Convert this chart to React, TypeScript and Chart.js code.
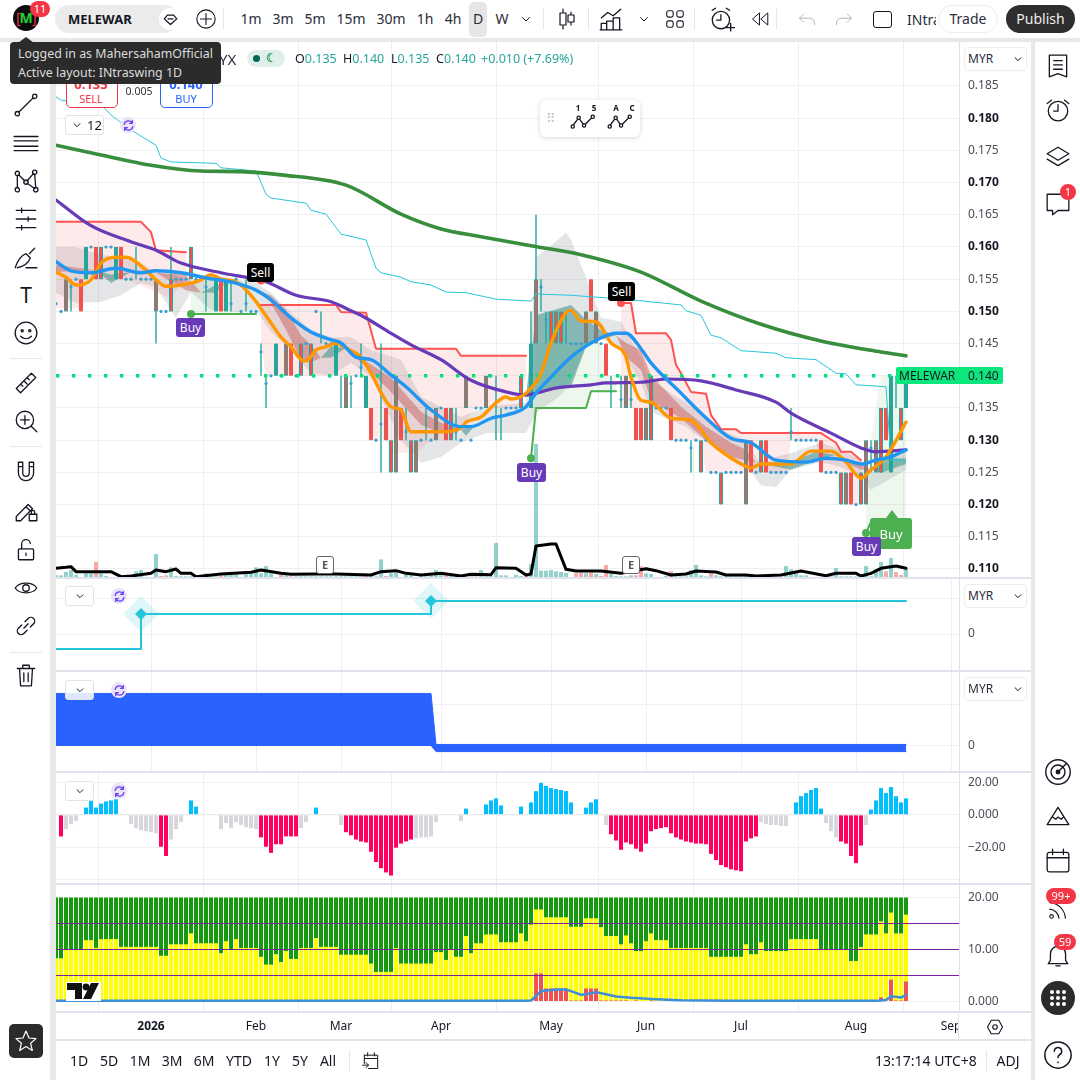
import { useEffect, useRef } from "react";
import { Chart, registerables } from "chart.js";
Chart.register(...registerables);
Chart.defaults.font.family = "'Noto Sans', sans-serif";

type P = [number, number];

const monthTicks = [19, 40, 57, 77, 99, 118, 137, 160, 179];
const monthLabels = ["2026", "Feb", "Mar", "Apr", "May", "Jun", "Jul", "Aug", "Sep"];
const priceTicks = [0.11, 0.115, 0.12, 0.125, 0.13, 0.135, 0.14, 0.145, 0.15, 0.155, 0.16, 0.165, 0.17, 0.175, 0.18, 0.185];

const openPrices = [
  .15,.15,.15,.155,.155,.155,.155,.16,.16,.155,
  .16,.16,.155,.16,.155,.155,.155,.155,.155,.155,
  .15,.15,.15,.15,.155,.155,.155,.155,.155,.155,
  .155,.155,.15,.155,.15,.155,.155,.15,.155,.15,
  .15,.145,.14,.14,.14,.14,.14,.145,.14,.14,
  .145,.14,.15,.15,.145,.145,.14,.14,.135,.14,
  .14,.145,.135,.135,.13,.135,.135,.125,.125,.135,
  .135,.125,.125,.13,.135,.13,.13,.135,.135,.13,
  .135,.13,.135,.13,.135,.135,.135,.14,.14,.135,
  .135,.135,.135,.135,.135,.135,.145,.155,.15,.145,
  .145,.145,.15,.145,.145,.145,.145,.155,.145,.145,
  .145,.14,.135,.14,.135,.14,.135,.135,.13,.13,
  .135,.135,.135,.135,.13,.13,.13,.13,.13,.125,
  .13,.125,.125,.12,.125,.125,.125,.125,.12,.13,
  .125,.125,.13,.125,.125,.125,.125,.135,.13,.13,
  .13,.13,.13,.13,.125,.125,.125,.12,.12,.125,
  .12,.12,.12,.13,.125,.125,.135,.125,.14,.13,
  .135,
];
const closePrices = [
  .15,.15,.155,.155,.155,.15,.16,.16,.155,.16,
  .16,.16,.16,.155,.155,.155,.155,.155,.155,.155,
  .155,.15,.15,.155,.155,.155,.155,.16,.155,.155,
  .155,.155,.155,.15,.155,.155,.155,.15,.155,.15,
  .15,.145,.14,.14,.145,.14,.145,.14,.14,.145,
  .145,.145,.15,.15,.145,.145,.145,.14,.14,.14,
  .14,.145,.14,.13,.13,.135,.13,.13,.14,.13,
  .135,.13,.13,.13,.135,.13,.135,.135,.13,.135,
  .135,.13,.14,.13,.135,.135,.14,.14,.14,.135,
  .135,.135,.135,.14,.135,.145,.155,.155,.15,.15,
  .15,.15,.15,.145,.145,.145,.15,.15,.15,.145,
  .14,.14,.135,.14,.14,.14,.13,.13,.135,.14,
  .135,.135,.135,.13,.13,.13,.13,.13,.13,.13,
  .13,.125,.125,.125,.125,.125,.125,.125,.13,.125,
  .125,.13,.125,.125,.125,.125,.125,.135,.13,.13,
  .13,.13,.13,.125,.125,.125,.125,.125,.125,.12,
  .12,.125,.13,.13,.13,.135,.13,.14,.14,.135,
  .14,
];
const highPrices = [
  .15,.15,.155,.155,.155,.155,.16,.16,.16,.16,
  .16,.16,.16,.16,.155,.155,.16,.155,.155,.155,
  .155,.15,.15,.16,.155,.155,.155,.16,.155,.155,
  .155,.155,.155,.155,.155,.155,.155,.15,.155,.15,
  .15,.145,.14,.14,.145,.14,.145,.145,.14,.145,
  .145,.145,.15,.15,.145,.145,.145,.14,.14,.14,
  .14,.145,.14,.135,.13,.145,.135,.13,.14,.135,
  .135,.13,.13,.13,.135,.13,.135,.135,.135,.135,
  .135,.13,.14,.13,.135,.135,.14,.14,.14,.135,
  .135,.135,.135,.14,.135,.15,.165,.155,.15,.15,
  .15,.15,.15,.145,.145,.145,.15,.155,.15,.145,
  .145,.14,.135,.14,.14,.14,.135,.135,.135,.14,
  .135,.135,.135,.135,.13,.13,.13,.13,.13,.13,
  .13,.125,.125,.125,.125,.125,.125,.125,.13,.13,
  .125,.13,.13,.125,.125,.125,.125,.135,.13,.13,
  .13,.13,.13,.13,.125,.125,.125,.125,.125,.125,
  .12,.125,.13,.13,.13,.135,.135,.14,.14,.135,
  .14,
];
const lowPrices = [
  .15,.15,.15,.15,.155,.15,.155,.16,.155,.155,
  .16,.16,.155,.155,.155,.155,.155,.155,.155,.155,
  .145,.15,.15,.15,.155,.155,.155,.155,.155,.155,
  .15,.155,.15,.15,.15,.15,.155,.15,.15,.15,
  .15,.14,.135,.14,.14,.14,.14,.14,.14,.14,
  .145,.14,.15,.145,.145,.145,.14,.135,.135,.135,
  .14,.14,.135,.13,.13,.125,.13,.125,.125,.13,
  .13,.125,.125,.13,.13,.13,.13,.135,.13,.13,
  .13,.13,.135,.13,.135,.135,.135,.14,.13,.13,
  .135,.135,.135,.135,.135,.135,.145,.15,.145,.145,
  .145,.145,.145,.145,.145,.145,.145,.15,.145,.145,
  .14,.135,.135,.135,.135,.135,.13,.13,.13,.13,
  .135,.135,.135,.13,.13,.13,.13,.125,.13,.125,
  .13,.125,.125,.12,.125,.125,.125,.125,.12,.125,
  .125,.125,.125,.125,.125,.125,.125,.13,.13,.13,
  .13,.13,.13,.125,.125,.125,.125,.12,.12,.12,
  .12,.12,.12,.125,.125,.125,.13,.125,.135,.13,
  .135,
];
const mixedBars = [2,9,20,23,27,46,49,51,58,67,68,71,72,76,79,82,86,93,96,99,100,101,106,108,114,118,119,129,133,138,141,157,158,161,162,164,165,169];
const midDots: P[] = [
  [0,.1512],[1,.15],[3,.1538],[4,.155],[7,.16],[10,.16],[11,.16],[14,.155],[15,.155],[17,.155],[18,.155],[19,.155],[21,.15],[22,.15],
  [24,.155],[25,.155],[26,.155],[28,.155],[29,.155],[30,.1538],[31,.155],[35,.1512],[36,.155],[37,.15],[38,.1512],[39,.15],[40,.15],
  [41,.1437],[42,.1388],[43,.14],[45,.14],[48,.14],[50,.145],[52,.15],[54,.145],[55,.145],[59,.1388],[60,.14],[61,.1413],[64,.13],
  [65,.1325],[70,.1313],[73,.13],[75,.13],[77,.135],[80,.1313],[81,.13],[83,.13],[84,.135],[85,.135],[87,.14],[88,.1378],[90,.135],
  [91,.135],[92,.135],[97,.1538],[98,.1487],[103,.145],[104,.145],[105,.145],[109,.145],[113,.1363],[115,.1363],[120,.135],[121,.135],
  [122,.135],[124,.13],[125,.13],[126,.13],[127,.1288],[128,.13],[130,.13],[131,.125],[132,.125],[134,.125],[135,.125],[136,.125],
  [137,.125],[140,.125],[143,.125],[144,.125],[145,.125],[146,.125],[147,.1313],[148,.13],[149,.13],[150,.13],[151,.13],[152,.13],
  [154,.125],[155,.125],[156,.125],[160,.12],[163,.1288],
];

const volumes = [
  8,8,18,24,10,3,14,14,48,14, 6,3,3,3,5,8,20,24,3,3, 72,6,8,32,6,5,5,5,8,5, 14,5,5,8,12,14,10,3,18,14,
  32,14,36,14,3,14,8,5,5,5, 5,5,5,5,5,5,5,5,5,5, 5,5,8,5,5,56,6,14,20,3, 10,8,3,5,5,8,24,10,10,10,
  10,5,3,5,5,24,5,5,105,8, 8,3,10,6,6,42,402,22,22,24, 20,18,15,3,14,15,14,15,12,6, 39,12,6,5,5,8,8,35,14,12,
  3,3,6,20,5,5,5,24,39,8, 5,14,8,5,5,5,5,5,12,3, 3,3,3,3,3,3,36,26,14,8, 8,3,3,3,5,5,30,5,5,5,
  5,3,36,5,26,48,20,60,18,9, 26,
];
const volumeDown = [8,13,21,22,33,37,45,47,62,66,69,78,84,94,103,104,105,107,109,110,116,117,120,123,131,166,168,169];
const volumeAverage: P[] = [
  [0,29],[2,32],[3,34],[4,19],[8,19],[11,19],[13,4],[15,6],[19,14],[20,24],[22,19],[24,27],[25,14],[27,14],[28,4],[33,12],[39,17],[41,24],
  [45,14],[47,11],[52,12],[56,12],[63,9],[65,19],[68,22],[70,14],[73,9],[77,14],[81,6],[83,11],[87,10],[88,31],[92,29],[94,9],[95,12],
  [96,96],[99,102],[100,102],[102,26],[104,21],[109,21],[113,14],[118,28],[120,22],[123,9],[126,12],[128,21],[132,18],[134,9],[138,9],
  [140,6],[145,9],[149,21],[154,7],[156,14],[160,14],[161,6],[163,14],[165,29],[168,36],[170,29],
];

const longAverage: P[] = [[0,.1758],[9,.1743],[19,.1727],[29,.1718],[37,.1717],[45,.1712],[58,.1696],[69,.1651],[77,.1628],[85,.1616],[95,.1602],[105,.1588],[117,.1561],[129,.1516],[141,.148],[153,.1454],[165,.1437],[170,.1431]];
const cyanLine: P[] = [[0,.1833],[1,.1828],[9,.1821],[11,.1805],[13,.1793],[16,.1777],[20,.1758],[21,.1738],[23,.1732],[32,.173],[33,.1723],[40,.1718],[42,.1682],[43,.1676],[50,.1668],[51,.1657],[54,.1651],[57,.162],[62,.1611],[64,.1567],[65,.156],[69,.1553],[71,.1546],[75,.1541],[78,.153],[82,.1529],[88,.1519],[95,.1516],[96,.1527],[103,.1525],[110,.1521],[115,.1518],[125,.151],[126,.1501],[129,.1494],[131,.1463],[133,.1459],[137,.1439],[144,.1435],[146,.1428],[152,.1425],[156,.1404],[158,.1403],[160,.1386],[166,.1383],[167,.1269],[170,.1268]];
const purpleLine: P[] = [[0,.1673],[7,.1633],[15,.1608],[20,.1595],[25,.1575],[33,.156],[42,.1546],[48,.1525],[55,.1515],[59,.1501],[61,.1494],[67,.1466],[71,.1448],[77,.1425],[83,.1393],[90,.1375],[94,.137],[97,.1375],[100,.1381],[107,.1386],[110,.1389],[117,.139],[122,.1395],[129,.1392],[136,.1378],[144,.1359],[147,.1342],[155,.1311],[161,.1288],[164,.1282],[170,.1285]];
const blueLine: P[] = [[0,.1577],[3,.1563],[7,.156],[12,.1567],[17,.156],[20,.1563],[25,.156],[30,.1552],[36,.1544],[40,.1533],[43,.1518],[47,.149],[51,.1468],[55,.1456],[57,.1451],[60,.1429],[63,.1425],[67,.1401],[70,.1383],[75,.1347],[81,.1321],[83,.1321],[87,.1334],[90,.1339],[94,.1352],[96,.1373],[99,.1398],[103,.1429],[109,.1459],[112,.1466],[114,.1466],[117,.1442],[119,.142],[125,.1373],[129,.1342],[135,.1303],[139,.1296],[144,.1269],[150,.1266],[154,.1272],[158,.1269],[161,.1263],[164,.1269],[167,.1274],[170,.1285]];
const orangeLine: P[] = [[0,.1561],[2,.1553],[4,.1541],[7,.1549],[9,.1575],[12,.1584],[14,.1584],[18,.1564],[20,.1549],[22,.1539],[27,.1544],[29,.1549],[31,.1557],[33,.155],[36,.1546],[39,.1525],[43,.1482],[45,.146],[47,.1445],[49,.1425],[50,.1423],[52,.144],[54,.1445],[56,.1451],[58,.1443],[61,.1429],[63,.1404],[67,.1352],[69,.1347],[71,.1313],[75,.1313],[77,.1313],[81,.1319],[82,.1328],[85,.1336],[88,.1358],[90,.1367],[91,.1364],[94,.1373],[97,.1404],[99,.1451],[102,.1498],[103,.1502],[105,.1485],[108,.1484],[111,.1451],[114,.1429],[115,.1398],[117,.1362],[119,.1359],[123,.1334],[127,.1331],[131,.1296],[137,.1263],[139,.1257],[141,.1263],[147,.1263],[151,.1283],[155,.1283],[158,.1266],[161,.1241],[163,.1254],[166,.1274],[170,.1328]];

const stopOne: P[] = [[0,.1639],[17,.1639],[19,.1623],[20,.1595],[26,.1592]];
const stopOneBase: P[] = [[0,.1505],[5,.1505],[6,.155],[14,.155],[20,.153],[23,.152],[26,.155]];
const stopTwo: P[] = [[41,.151],[56,.151],[57,.1499],[62,.1498],[64,.1442],[80,.1442],[81,.1431],[94,.1431]];
const stopTwoBase: P[] = [[41,.145],[42,.14],[62,.14],[63,.13],[66,.13],[67,.128],[72,.128],[75,.13],[79,.13],[81,.132],[84,.135],[93,.135],[94,.14]];
const stopThree: P[] = [[113,.1513],[115,.1513],[116,.1466],[122,.1466],[123,.1456],[124,.1417],[125,.1404],[127,.1375],[130,.1372],[131,.1339],[132,.1328],[133,.1317],[136,.1317],[137,.1311],[153,.1311],[156,.1296],[157,.1282],[159,.1282],[161,.1269]];
const stopThreeBase: P[] = [[113,.135],[122,.135],[123,.13],[129,.13],[130,.125],[146,.125],[147,.13],[152,.13],[153,.125],[156,.125],[157,.12],[161,.12]];
const trailOne: P[] = [[27,.1496],[40,.1496]];
const trailOneTop: P[] = [[27,.155],[32,.155],[33,.15],[40,.15]];
const trailTwo: P[] = [[95,.1272],[96,.135],[106,.135],[107,.1376],[112,.1376]];
const trailTwoTop: P[] = [[95,.1272],[96,.145],[109,.145],[110,.14],[112,.14]];
const trailThree: P[] = [[162,.1156],[163,.1173],[170,.1176]];
const trailThreeTop: P[] = [[162,.12],[163,.13],[164,.135],[165,.14],[170,.14]];

const ribbonFast: P[] = [[0,.1561],[8,.1564],[11,.1557],[15,.1561],[20,.156],[26,.1533],[29,.1529],[32,.1541],[34,.1544],[41,.153],[43,.1513],[46,.1471],[49,.1425],[51,.1421],[53,.1428],[55,.1446],[58,.1443],[67,.1375],[73,.1324],[77,.1311],[81,.1316],[82,.1319],[84,.1324],[94,.1369],[96,.1494],[103,.151],[106,.1487],[109,.1471],[112,.1463],[114,.1429],[117,.1409],[119,.1362],[125,.1334],[130,.13],[135,.1274],[138,.1269],[140,.1265],[147,.1266],[152,.1282],[156,.1277],[158,.1265],[161,.1254],[163,.1254],[165,.1272],[170,.1272]];
const ribbonSlow: P[] = [[0,.1572],[8,.1564],[11,.1544],[15,.1561],[20,.156],[26,.1557],[29,.1529],[32,.1529],[34,.1544],[41,.153],[43,.1525],[46,.1502],[49,.1463],[51,.1448],[53,.1428],[55,.1428],[58,.1443],[67,.1397],[73,.1344],[77,.1327],[81,.1316],[82,.1307],[84,.1324],[94,.1369],[96,.1373],[103,.1383],[106,.1445],[109,.1456],[112,.1463],[114,.1451],[117,.144],[119,.1401],[125,.1352],[130,.1321],[135,.1296],[138,.1285],[140,.1265],[147,.1254],[152,.1269],[156,.1277],[158,.1272],[161,.1263],[163,.1254],[165,.1249],[170,.1263]];

const bandUpper: P[] = [[0,.16],[4,.16],[9,.1588],[13,.1584],[17,.1575],[20,.1561],[24,.1557],[27,.1541],[31,.1557],[36,.155],[40,.1544],[43,.1529],[47,.1498],[51,.1471],[55,.146],[59,.146],[63,.144],[69,.1425],[73,.1367],[77,.1352],[81,.1336],[86,.1352],[94,.1358],[96,.1584],[101,.1615],[102,.1623],[103,.1611],[106,.1553],[109,.149],[113,.1484],[117,.1429],[119,.1393],[126,.1358],[133,.1316],[138,.13],[141,.1261],[144,.1274],[147,.128],[153,.1296],[157,.1285],[161,.1269],[163,.1249],[170,.1289]];
const bandLower: P[] = [[0,.1529],[4,.1513],[9,.1515],[13,.1525],[17,.1544],[20,.1538],[24,.149],[27,.153],[31,.1502],[36,.1499],[40,.1502],[43,.1468],[47,.144],[51,.1404],[55,.1401],[59,.142],[63,.1398],[69,.13],[73,.1265],[77,.1274],[81,.1296],[86,.1311],[94,.1311],[96,.1342],[101,.137],[102,.1381],[103,.1393],[106,.1445],[109,.1459],[113,.144],[117,.1389],[119,.1344],[126,.1321],[133,.128],[138,.1261],[141,.123],[144,.1227],[147,.1254],[153,.1266],[157,.1258],[161,.1243],[163,.1223],[170,.1254]];

const lastPriceLine: P[] = [[0,.14],[170,.14]];
const buyDots: P[] = [[27,.1496],[95,.1272],[162,.1156]];
const sellDots: P[] = [[41,.1548],[113,.1513]];

const signalLine: P[] = [[0,-.42],[17,.556],[75,.917],[170,.917]];
const signalMarks: P[] = [[17,.556],[75,.917]];
const fillTop: P[] = [[0,1.275],[75,1.275],[76,.025],[170,.025]];
const fillBase: P[] = [[0,0],[75,0],[76,-.15],[170,-.15]];

const momentum = [
  0,-13.3,-8.8,-5.7,-3.8,0,4.4,8.8,4.4,6.9, 8.2,8.8,9.5,0,0,-5.7,-8.2,-9.5,-10.1,-10.7,
  -11.4,-19.6,-25.3,-15.2,-8.8,-4.4,0,8.8,5,0, 0,0,0,-8.8,-5,-8.2,-4.4,-6.3,-7.6,-8.2,
  -8.8,-13.9,-19.6,-23.4,-18.1,-18.1,-13.3,-13.3,-13.3,-8.2, -4.4,0,4.4,0,0,0,0,-6.3,-10.7,-12.6,
  -15.2,-16.4,-17,-22.7,-29,-32.8,-35.4,-37.3,-20.2,-17.7, -16.4,-15.2,-14.5,-13.9,-13.9,-13.3,-4.4,0,0,0,
  0,-3.8,3.8,0,0,0,6.3,8.8,10.1,5.7, 0,0,0,5,0,7.6,14.5,19.6,17.7,16.4,
  15.8,15.2,14.5,7.6,0,0,4.4,7.6,9.5,0, -6.3,-12,-15.8,-21.5,-17,-18.1,-20.8,-22.7,-17.7,-10.1,
  -8.8,-8.2,-7.6,-11.4,-13.9,-15.2,-16.4,-17,-17.7,-17.7, -18.1,-24,-27.8,-30.9,-32.2,-33.5,-34.1,-34.7,-16.4,-14.5,
  -13.3,-4.6,-5.7,-6.3,-6.3,-6.9,-6.9,0,7.6,11.4, 13.3,15.2,16.4,3.8,-5,-10.1,-13.9,-16.4,-17.7,-25.3,
  -29.7,-18.9,-6.3,3.2,8.8,16.4,13.3,17,11.4,7.6, 10.1,
];
const momentumGray = [2,3,4,15,16,17,18,19,20,23,24,25,33,34,35,36,37,38,39,40,49,50,57,72,73,74,75,76,81,110,141,142,143,144,145,146,154,155,156,162];

const yellowBars = [
  8.3,8.3,9.9,9.9,9.9,9.9,11.8,11.8,10.3,12, 12,12,12,10.5,10.5,10.5,10.5,10.5,10.5,10.5,
  10.5,8.8,8.8,11,11,11,11,13.1,11.2,11.2, 11.2,11.2,11.2,9.3,11.6,9.9,12,10.3,10.3,10.3,
  10.3,8.6,7.1,7.1,9.1,7.6,9.7,8.2,8.2,10.3, 10.3,10.3,12.2,10.5,10.5,10.5,10.5,9,9,9,
  9,9,9,7.3,5.7,5.7,5.7,5.7,10.3,7.3, 7.3,7.3,7.3,7.3,7.3,7.3,9.5,9.5,8,9.9,
  8.6,8.6,12.6,9.3,11.2,11.2,12.9,12.9,12.9,11.4, 11.4,11.4,11.4,13.1,11.6,14.8,17.7,17.7,16.2,16.2,
  16.2,16.2,16.2,14.4,14.4,14.4,16,16,16,14.3, 12.6,12.6,12.6,11,12.7,11.2,9.7,9.7,11.6,13.1,
  11.8,11.8,11.8,10.3,10.3,10.3,10.3,10.3,10.3,10.3, 10.3,8.6,8.6,8.6,8.6,8.6,8.6,8.6,11,9.1,
  9.1,11.4,9.7,9.7,9.7,9.7,9.7,12,12,12, 12,12,12,9.9,9.9,9.9,9.9,9.9,9.9,7.8,
  7.8,10.5,12.9,12.9,12.9,15.4,13.1,17.1,13.1,13.1, 16.7,
];
const redBars: P[] = [[96,5.4],[97,5.4],[98,2.5],[99,2.5],[100,2.5],[101,2.5],[102,2.5],[103,.2],[104,.2],[105,.2],[106,2.5],[107,2.5],[108,2.5],[109,.2],[110,.2],[111,.2],[112,.2],[113,.2],[114,.2],[116,.2],[119,.2],[122,.2],[125,.2],[165,.8],[167,4.2],[168,.2],[169,.2],[170,3.85]];
const flowLine: P[] = [[0,.15],[94,.15],[95,.2],[96,1.05],[97,2],[98,2.1],[100,2.3],[102,2.3],[103,2],[105,1.3],[106,1.4],[108,1.8],[110,1.4],[112,.95],[115,.7],[120,.45],[125,.25],[135,.15],[164,.15],[165,.2],[166,.3],[167,1],[169,.75],[170,1.25]];
const guideLevels = [15, 10, 5];

const TEAL = "#26a69a";
const RED = "#ef5350";
const GRID = "#f0f0f3";
const AXIS = "#e0e3eb";
const pts = (list: P[]) => list.map(([x, y]) => ({ x, y }));
const idx = volumes.map((_, i) => i);

const xAxis = (labels = false): any => ({
  type: "linear", min: 0, max: 180.6, offset: false,
  afterBuildTicks: (s: any) => { s.ticks = monthTicks.map((value) => ({ value })); },
  afterFit: (s: any) => { s.height = labels ? 28 : 0; s.paddingLeft = 0; s.paddingRight = 0; },
  border: { display: false },
  grid: { color: "#eeeef3", drawTicks: false },
  ticks: labels
    ? {
        display: true, autoSkip: false, maxRotation: 0, padding: 7, color: "#131722",
        font: (c: any) => ({ size: 12, weight: c.tick && c.tick.value === 19 ? "bold" : "normal" }),
        callback: (v: number) => monthLabels[monthTicks.indexOf(v)] ?? "",
      }
    : { display: false },
});
const yAxis = (min: number, max: number, ticks: number[], fmt: (v: number) => string, bold?: (v: number) => boolean): any => ({
  type: "linear", position: "right", min, max,
  afterBuildTicks: (s: any) => { s.ticks = ticks.map((value) => ({ value })); },
  afterFit: (s: any) => { s.width = 72; s.paddingTop = 0; s.paddingBottom = 0; },
  border: { display: true, color: AXIS },
  grid: { color: GRID, drawTicks: false },
  ticks: {
    autoSkip: false, padding: 9, callback: (v: number) => fmt(v),
    color: (c: any) => (bold && c.tick && bold(c.tick.value) ? "#131722" : "#4a4e59"),
    font: (c: any) => ({ size: 12, weight: bold && c.tick && bold(c.tick.value) ? "bold" : "normal" }),
  },
});
const baseOptions = (scales: any): any => ({
  responsive: false, animation: false, events: [], layout: { padding: 0, autoPadding: false },
  plugins: { legend: { display: false }, tooltip: { enabled: false } },
  scales,
});
const ln = (data: P[], color: string, w: number, extra: any = {}) => ({
  type: "line", data: pts(data), borderColor: color, borderWidth: w, pointRadius: 0, tension: 0, fill: false,
  borderJoinStyle: "round", borderCapStyle: "round", ...extra,
});
const smooth = { cubicInterpolationMode: "monotone" };

function buildMain(canvas: HTMLCanvasElement) {
  const ds: any[] = [];
  const add = (d: any) => { d.order = -ds.length; ds.push(d); return ds.length - 1; };
  const band = (upper: P[], lower: P[], above: string, below = above, w = 0, col = "transparent") => {
    const t = add(ln(lower, "transparent", 0));
    add(ln(upper, col, w, { fill: { target: t, above, below } }));
  };
  add({
    type: "bar", yAxisID: "vol", grouped: false, barThickness: 4, inflateAmount: 0,
    data: idx.map((i) => ({ x: i, y: volumes[i] })),
    backgroundColor: idx.map((i) => (volumeDown.includes(i) ? "rgba(239,83,80,.5)" : "rgba(38,166,154,.5)")),
  });
  band(bandUpper, bandLower, "rgba(120,123,134,.2)");
  band(stopOne, stopOneBase, "rgba(239,83,80,.12)", "rgba(239,83,80,.12)", 2, "#ff5252");
  band(stopTwo, stopTwoBase, "rgba(239,83,80,.12)", "rgba(239,83,80,.12)", 2, "#ff5252");
  band(stopThree, stopThreeBase, "rgba(239,83,80,.12)", "rgba(239,83,80,.12)", 2, "#ff5252");
  band(trailOneTop, trailOne, "rgba(76,175,80,.1)");
  band(trailTwoTop, trailTwo, "rgba(76,175,80,.1)");
  band(trailThreeTop, trailThree, "rgba(76,175,80,.1)");
  add(ln(trailOne, "#4caf50", 2));
  add(ln(trailTwo, "#4caf50", 2));
  add(ln(trailThree, "#4caf50", 2));
  band(ribbonFast, ribbonSlow, "rgba(38,140,130,.5)", "rgba(190,70,70,.4)");

  const wickIdx = idx.filter((i) => highPrices[i] > lowPrices[i]);
  add({
    type: "bar", grouped: false, barThickness: 1.4, inflateAmount: 0,
    data: wickIdx.map((i) => ({ x: i, y: [lowPrices[i], highPrices[i]] })),
    backgroundColor: wickIdx.map((i) => (closePrices[i] < openPrices[i] ? RED : TEAL)),
  });
  const bodyIdx = idx.filter((i) => closePrices[i] !== openPrices[i]);
  add({
    type: "bar", grouped: false, barThickness: 4, inflateAmount: 0, borderWidth: 1, borderSkipped: false,
    data: bodyIdx.map((i) => ({ x: i, y: [openPrices[i], closePrices[i]] })),
    backgroundColor: bodyIdx.map((i) => (mixedBars.includes(i) || closePrices[i] < openPrices[i] ? RED : TEAL)),
    borderColor: bodyIdx.map((i) => (closePrices[i] < openPrices[i] && !mixedBars.includes(i) ? RED : TEAL)),
  });
  add(ln(midDots, "transparent", 0, { showLine: false, pointRadius: 1.6, pointBackgroundColor: "#3a9fd0", pointBorderWidth: 0 }));
  add(ln(lastPriceLine, "#00e676", 3.4, { borderDash: [3.4, 12.6], borderCapStyle: "butt" }));
  add(ln(volumeAverage, "#000000", 3, { yAxisID: "vol" }));
  add(ln(cyanLine, "#26c6da", 1));
  add(ln(longAverage, "#388e3c", 3.6, smooth));
  add(ln(purpleLine, "#673ab7", 3.2, smooth));
  add(ln(orangeLine, "#ff9800", 3.4, smooth));
  add(ln(blueLine, "#2196f3", 3.4, smooth));
  add(ln(buyDots, "transparent", 0, { showLine: false, pointRadius: 4, pointBackgroundColor: "#4caf50", pointBorderWidth: 0 }));
  add(ln(sellDots, "transparent", 0, { showLine: false, pointRadius: 4, pointBackgroundColor: "#ff5252", pointBorderWidth: 0 }));
  return new Chart(canvas, {
    type: "line", data: { datasets: ds },
    options: baseOptions({
      x: xAxis(),
      y: yAxis(0.1086, 0.19183, priceTicks, (v) => v.toFixed(3), (v) => Math.round(v * 1000) % 10 === 0),
      vol: { type: "linear", display: false, min: 0, max: 1608 },
    }),
  } as any);
}
function buildSignal(canvas: HTMLCanvasElement) {
  return new Chart(canvas, {
    type: "line",
    data: {
      datasets: [
        ln(signalMarks, "transparent", 0, { showLine: false, pointStyle: "rectRot", pointRadius: 6, pointBackgroundColor: "#26c6da", pointBorderWidth: 0, order: -1 }),
        ln(signalLine, "#26c6da", 2, { stepped: "before", borderJoinStyle: "miter", order: 0 }),
        ln(signalMarks, "transparent", 0, { showLine: false, pointStyle: "rectRot", pointRadius: 18, pointBackgroundColor: "rgba(38,198,218,.14)", pointBorderWidth: 0, order: 1 }),
      ],
    },
    options: baseOptions({ x: xAxis(), y: yAxis(-1.028, 1.556, [1, 0], (v) => (v === 0 ? "0" : "")) }),
  } as any);
}
function buildFill(canvas: HTMLCanvasElement) {
  return new Chart(canvas, {
    type: "line",
    data: { datasets: [ln(fillBase, "#2962ff", 1), ln(fillTop, "#2962ff", 1, { fill: { target: 0, above: "#2962ff", below: "#2962ff" } })] },
    options: baseOptions({ x: xAxis(), y: yAxis(-0.65, 1.825, [1, 0], (v) => (v === 0 ? "0" : "")) }),
  } as any);
}
function buildMomentum(canvas: HTMLCanvasElement) {
  return new Chart(canvas, {
    type: "bar",
    data: {
      datasets: [
        ln([[0, 0], [170, 0]], "#e4e4ea", 1, { borderDash: [3, 2], order: -1 }),
        {
          type: "bar", grouped: false, barThickness: 4, inflateAmount: 0, order: 0,
          data: idx.map((i) => ({ x: i, y: momentum[i] })),
          backgroundColor: idx.map((i) => (momentum[i] > 0 ? "#00bfff" : momentumGray.includes(i) ? "#d6d6dc" : "#ff0060")),
        },
      ],
    },
    options: baseOptions({
      x: xAxis(),
      y: yAxis(-42.5, 26.25, [20, 0, -20, -40], (v) => (v === -40 ? "" : v === 0 ? "0.000" : v > 0 ? "20.00" : "\u221220.00")),
    }),
  } as any);
}
function buildVolumeMix(canvas: HTMLCanvasElement) {
  return new Chart(canvas, {
    type: "bar",
    data: {
      datasets: [
        ln(flowLine, "#3d8fdc", 2.5, { order: -2 }),
        ...guideLevels.map((g) => ln([[0, g], [180.6, g]], "#7b1fa2", 1, { order: -1 })),
        { type: "bar", grouped: false, barThickness: 4, inflateAmount: 0, order: 0, data: pts(redBars), backgroundColor: RED },
        { type: "bar", grouped: false, barThickness: 4, inflateAmount: 0, order: 1, data: idx.map((i) => ({ x: i, y: yellowBars[i] })), backgroundColor: "#ffff00" },
        { type: "bar", grouped: false, barThickness: 4, inflateAmount: 0, order: 2, data: idx.map((i) => ({ x: i, y: 20 })), backgroundColor: "#149a0c" },
      ],
    },
    options: baseOptions({
      x: xAxis(true),
      y: yAxis(-2.019, 22.596, [20, 10, 0], (v) => (v === 0 ? "0.000" : v.toFixed(2))),
    }),
  } as any);
}

const Abs = ({ x, y, w, h, style, children }: any) => (
  <div style={{ position: "absolute", left: x, top: y, width: w, height: h, boxSizing: "border-box", ...style }}>{children}</div>
);
const Txt = ({ x, y, size = 13, color = "#131722", bold, children, anchor = "left" }: any) => (
  <div style={{ position: "absolute", left: x, top: y, fontSize: size, lineHeight: "1", color, fontWeight: bold ? 700 : 400, whiteSpace: "nowrap",
    transform: `translate(${anchor === "center" ? "-50%" : "0"},-50%)` }}>{children}</div>
);
const Ico = ({ x, y, s = 24, sw = 1.2, col = "#131722", children }: any) => (
  <svg width={s} height={s} viewBox="0 0 24 24" fill="none" stroke={col} strokeWidth={sw} strokeLinecap="round" strokeLinejoin="round"
    style={{ position: "absolute", left: x - s / 2, top: y - s / 2 }}>{children}</svg>
);
const Badge = ({ x, y, children, w = 18 }: any) => (
  <div style={{ position: "absolute", left: x - w / 2, top: y - 8, width: w, height: 16, borderRadius: 8, background: "#f23645", color: "#fff", fontSize: 11, lineHeight: "16px", textAlign: "center" }}>{children}</div>
);
const Tag = ({ x, y, w, bg, children }: any) => (
  <div style={{ position: "absolute", left: x, top: y, width: w, height: 19, borderRadius: 3, background: bg, color: "#fff", fontSize: 12, lineHeight: "19px", textAlign: "center" }}>{children}</div>
);
const Myr = ({ y }: any) => (
  <Abs x={964} y={y} w={63} h={24} style={{ border: "1px solid #eceef2", borderRadius: 4, background: "#fff" }}>
    <Txt x={3} y={11} size={12} color="#2a2e39">MYR</Txt>
    <Ico x={53} y={11} s={10} sw={2.4}><path d="M5 9l7 7 7-7" /></Ico>
  </Abs>
);
const Fold = ({ y, label }: any) => (
  <>
    <Abs x={65} y={y} w={label ? 39 : 29} h={20} style={{ border: "1px solid #e0e3eb", borderRadius: 3, background: "rgba(255,255,255,.85)" }}>
      <Ico x={label ? 11 : 14} y={9} s={10} sw={2.4}><path d="M5 9l7 7 7-7" /></Ico>
      {label && <Txt x={21} y={9} size={13}>{label}</Txt>}
    </Abs>
    <Abs x={119 + (label ? 9 : 0) - 8} y={y + 2} w={16} h={16} style={{ borderRadius: 8, background: "#e9e3f8" }} />
    <Ico x={119 + (label ? 9 : 0)} y={y + 10} s={13} sw={2.4} col="#6a3df0"><path d="M4 10a8 8 0 0 1 15-2M20 14a8 8 0 0 1-15 2M19 3v5h-5M5 21v-5h5" /></Ico>
  </>
);
const EMark = ({ x }: any) => (
  <Abs x={x} y={556} w={18} h={18} style={{ border: "1.5px solid #666", borderRadius: 3, background: "#fff", color: "#555", fontSize: 11, fontWeight: 700, lineHeight: "15px", textAlign: "center" }}>E</Abs>
);

const intervals: [string, number][] = [["1m", 251], ["3m", 283], ["5m", 315], ["15m", 351], ["30m", 391], ["1h", 425], ["4h", 453], ["D", 478], ["W", 502]];
const ranges: [string, number][] = [["1D", 79], ["5D", 109], ["1M", 140], ["3M", 172], ["6M", 204], ["YTD", 239], ["1Y", 272], ["5Y", 300], ["All", 328]];

function Chrome() {
  return (
    <>
      {/* strips */}
      <Abs x={0} y={38} w={1080} h={4} style={{ background: "#e8e8e8" }} />
      <Abs x={50} y={38} w={6} h={1042} style={{ background: "#e8e8e8" }} />
      <Abs x={1031} y={38} w={4} h={1042} style={{ background: "#e8e8e8" }} />
      {[578, 671, 772, 884, 1012, 1040].map((y) => <Abs key={y} x={56} y={y - 1} w={975} h={2} style={{ background: AXIS }} />)}

      {/* top bar */}
      <Abs x={13} y={5} w={26} h={26} style={{ borderRadius: 13, background: "#0c0c0c" }} />
      <Txt x={26} y={18} size={14} bold color="#22d030" anchor="center">M</Txt>
      <Txt x={16} y={18} size={14} color="#f23645">[</Txt><Txt x={32} y={18} size={14} color="#f23645">]</Txt>
      <Badge x={40} y={9} w={20}>11</Badge>
      <Abs x={55} y={5} w={123} h={28} style={{ background: "#ebebeb", borderRadius: 14 }} />
      <Txt x={68} y={19} size={13} bold>MELEWAR</Txt>
      <Abs x={159} y={8} w={22} h={22} style={{ background: "#fff", borderRadius: 11 }} />
      <Ico x={170} y={19} s={15} sw={2}><path d="M7 5h10l5 6-10 9L2 11zM8 11h8" /></Ico>
      <Ico x={206} y={19} s={22}><circle cx="12" cy="12" r="10" /><path d="M12 6v12M6 12h12" /></Ico>
      <Abs x={223} y={8} w={1} h={22} style={{ background: "#e6e6e6" }} />
      <Abs x={469} y={2} w={18} h={35} style={{ background: "#e6e6e6", borderRadius: 5 }} />
      {intervals.map(([t, x]) => <Txt key={t} x={x} y={19} size={14} color="#2a2e39" anchor="center">{t}</Txt>)}
      <Ico x={526} y={19} s={12} sw={2}><path d="M5 9l7 7 7-7" /></Ico>
      <Abs x={543} y={8} w={1} h={22} style={{ background: "#e6e6e6" }} />
      <Ico x={567} y={19} s={24}><path d="M8 2v20M16 5v13" /><rect x="5" y="6" width="6" height="12" fill="#fff" /><rect x="13" y="8" width="6" height="7" fill="#fff" /></Ico>
      <Abs x={588} y={8} w={1} h={22} style={{ background: "#e6e6e6" }} />
      <Ico x={611} y={19} s={26}><path d="M3 11l6-5 5 3 7-6M3 22V16h5v6M8 22v-8h6v8M14 22V11h6v11M2 22h20" /></Ico>
      <Ico x={644} y={19} s={12} sw={2}><path d="M5 9l7 7 7-7" /></Ico>
      <Ico x={675} y={19} s={22}><rect x="3" y="3" width="7" height="7" rx="2" /><rect x="14" y="3" width="7" height="7" rx="2" /><rect x="3" y="14" width="7" height="7" rx="2" /><rect x="14" y="14" width="7" height="7" rx="2" /></Ico>
      <Abs x={694} y={8} w={1} h={22} style={{ background: "#e6e6e6" }} />
      <Ico x={722} y={19} s={26}><circle cx="11" cy="13" r="8" /><path d="M11 8v5H7M3 4l3-2M19 4l-3-2M20 16v7M16 20h8" /></Ico>
      <Ico x={760} y={19} s={20}><path d="M11 5l-8 7 8 7zM21 5l-8 7 8 7z" /></Ico>
      <Abs x={776} y={8} w={1} h={22} style={{ background: "#e6e6e6" }} />
      <Ico x={807} y={19} s={20} col="#b2b5be"><path d="M8 6l-5 5 5 5M3 11h12a6 6 0 0 1 6 6v2" /></Ico>
      <Ico x={844} y={19} s={20} col="#b2b5be"><path d="M16 6l5 5-5 5M21 11H9a6 6 0 0 0-6 6v2" /></Ico>
      <Abs x={873} y={11} w={19} h={17} style={{ border: "1.3px solid #131722", borderRadius: 3 }} />
      <div style={{ position: "absolute", left: 907, top: 10, width: 29, height: 20, overflow: "hidden", fontSize: 14, lineHeight: "20px", color: "#2a2e39", whiteSpace: "nowrap" }}>INtraswing 1D</div>
      <Abs x={938} y={5} w={60} h={28} style={{ border: "1px solid #eceef2", borderRadius: 14, background: "#fff", fontSize: 14, lineHeight: "26px", textAlign: "center", color: "#2a2e39" }}>Trade</Abs>
      <Abs x={1006} y={5} w={69} h={28} style={{ borderRadius: 14, background: "#2e2e2e", fontSize: 14, lineHeight: "28px", textAlign: "center", color: "#eee" }}>Publish</Abs>

      {/* legend row */}
      <Txt x={219} y={59} size={15} color="#2a2e39">YX</Txt>
      <Abs x={247} y={50} w={38} h={17} style={{ borderRadius: 9, background: "#dff0ea" }} />
      <Abs x={253} y={55} w={7} h={7} style={{ borderRadius: 4, background: "#056656" }} />
      <Txt x={271} y={58} size={12} bold color="#2e9e5b" anchor="center">☾</Txt>
      {([["O", "0.135", 295], ["H", "0.140", 343], ["L", "0.135", 391], ["C", "0.140", 436]] as [string, string, number][]).map(([k, v, x]) => (
        <div key={k} style={{ position: "absolute", left: x, top: 51, fontSize: 12.5, lineHeight: "15px", whiteSpace: "nowrap", color: "#131722" }}>{k}<span style={{ color: "#26a69a" }}>{v}</span></div>
      ))}
      <Txt x={481} y={59} size={12.5} color="#26a69a">+0.010 (+7.69%)</Txt>

      {/* trade box */}
      <Abs x={66} y={70} w={52} h={38} style={{ border: "1px solid #f23645", borderRadius: 5, background: "#fff" }} />
      <Txt x={91} y={84} size={13} bold color="#f23645" anchor="center">0.135</Txt>
      <Txt x={91} y={98} size={11} color="#f23645" anchor="center">SELL</Txt>
      <Txt x={139} y={91} size={10.5} color="#333" anchor="center">0.005</Txt>
      <Abs x={160} y={70} w={53} h={38} style={{ border: "1px solid #2962ff", borderRadius: 5, background: "#fff" }} />
      <Txt x={186} y={84} size={13} bold color="#2962ff" anchor="center">0.140</Txt>
      <Txt x={186} y={98} size={11} color="#2962ff" anchor="center">BUY</Txt>

      {/* floating drawing box */}
      <Abs x={540} y={100} w={100} h={37} style={{ background: "#fff", borderRadius: 6, boxShadow: "0 1px 5px rgba(0,0,0,.16)" }} />
      <Txt x={551} y={118} size={13} color="#c4c6cc" anchor="center">⠿</Txt>
      <Ico x={583} y={120} s={26}><path d="M2 18l6-8 5 7 8-8" /><circle cx="2.5" cy="18" r="1.5" fill="#fff" /><circle cx="8" cy="10" r="1.5" fill="#fff" /><circle cx="13" cy="17" r="1.5" fill="#fff" /><circle cx="21" cy="9" r="1.5" fill="#fff" /></Ico>
      <Txt x={578} y={108} size={8} bold anchor="center">1</Txt><Txt x={594} y={108} size={8} bold anchor="center">5</Txt>
      <Ico x={620} y={120} s={26}><path d="M2 18l6-8 5 7 8-8" /><circle cx="2.5" cy="18" r="1.5" fill="#fff" /><circle cx="8" cy="10" r="1.5" fill="#fff" /><circle cx="13" cy="17" r="1.5" fill="#fff" /><circle cx="21" cy="9" r="1.5" fill="#fff" /></Ico>
      <Txt x={616} y={108} size={8} bold anchor="center">A</Txt><Txt x={632} y={108} size={8} bold anchor="center">C</Txt>

      <Fold y={115} label="12" />
      <Fold y={586} />
      <Fold y={680} />
      <Fold y={781} />
      <Myr y={47} /><Myr y={584} /><Myr y={677} />
      <EMark x={316} /><EMark x={622} />

      {/* signal tags */}
      <Tag x={176} y={318} w={29} bg="#673ab7">Buy</Tag>
      <Tag x={517} y={463} w={29} bg="#673ab7">Buy</Tag>
      <svg width={46} height={42} style={{ position: "absolute", left: 868, top: 509 }}>
        <path d="M2 12q0-3 3-3h13l6-8 6 8h11q3 0 3 3v25q0 3-3 3H5q-3 0-3-3z" fill="#4caf50" />
      </svg>
      <div style={{ position: "absolute", left: 870, top: 526, width: 42, textAlign: "center", color: "#fff", fontSize: 13, lineHeight: "16px" }}>Buy</div>
      <Tag x={852} y={537} w={29} bg="#673ab7">Buy</Tag>
      <Tag x={247} y={263} w={27} bg="#000">Sell</Tag>
      <Tag x={608} y={282} w={27} bg="#000">Sell</Tag>
      <Abs x={896} y={367} w={107} h={17} style={{ background: "#0ce67c", borderRadius: 2 }} />
      <Txt x={899} y={376} size={12} color="#131722">MELEWAR</Txt>
      <Txt x={968} y={376} size={12} color="#131722">0.140</Txt>

      {/* TradingView mark */}
      <Abs x={66} y={982} w={35} h={19} style={{ background: "#fff" }} />
      <svg width={33} height={17} viewBox="0 0 33 17" style={{ position: "absolute", left: 67, top: 983 }}>
        <path d="M0 0h15v16H8V7H0zM24 0h8l-8 16h-8z" fill="#111" /><circle cx="19" cy="4" r="3.4" fill="#111" />
      </svg>

      {/* tooltip */}
      <Abs x={10} y={42} w={211} h={42} style={{ background: "#2b2b2b", borderRadius: 4, color: "#dcdcdc", fontSize: 12.4, lineHeight: "19px", padding: "2px 8px" }}>
        <div style={{ whiteSpace: "nowrap" }}>Logged in as MahersahamOfficial</div>
        <div style={{ whiteSpace: "nowrap" }}>Active layout: INtraswing 1D</div>
      </Abs>
      <svg width={16} height={6} style={{ position: "absolute", left: 18, top: 37 }}><path d="M0 6L8 0l8 6z" fill="#2b2b2b" /></svg>

      {/* left tools */}
      <Ico x={26} y={105} s={26}><circle cx="4" cy="20" r="2" /><circle cx="20" cy="4" r="2" /><path d="M5.5 18.5l13-13" /></Ico>
      <Ico x={26} y={143} s={26}><path d="M1 6h22M1 10h22M1 15h22M1 19h22" /></Ico>
      <Ico x={26} y={181} s={26}><circle cx="4" cy="5" r="2" /><circle cx="20" cy="4" r="2" /><circle cx="12" cy="13" r="2" /><circle cx="4" cy="20" r="2" /><circle cx="21" cy="20" r="2" /><path d="M4 7v11M5 6l6 6M13 12l6-7M20 6l1 12M13 14l7 5" /></Ico>
      <Ico x={26} y={219} s={26}><path d="M3 4h18M3 12h18M3 20h18M8 2v4M14 10v4M8 18v4" /></Ico>
      <Ico x={26} y={258} s={26}><path d="M2 21c2-6 5-11 10-13l4 4c-2 5-7 8-12 9M15 8l5-5M12 21h10" /></Ico>
      <Txt x={26} y={295} size={21} color="#131722" anchor="center">T</Txt>
      <Ico x={26} y={333} s={26}><circle cx="12" cy="12" r="10" /><circle cx="8.5" cy="10" r="1" /><circle cx="15.5" cy="10" r="1" /><path d="M7 15c3 3 7 3 10 0" /></Ico>
      <Abs x={10} y={358} w={32} h={1} style={{ background: "#e6e6e6" }} />
      <Ico x={26} y={383} s={26}><path d="M3 17L17 3l4 4L7 21zM7 13l2 2M10 10l3 3M13 7l2 2" /></Ico>
      <Ico x={26} y={421} s={26}><circle cx="11" cy="11" r="8" /><path d="M17 17l5 5M11 7v8M7 11h8" /></Ico>
      <Abs x={10} y={446} w={32} h={1} style={{ background: "#e6e6e6" }} />
      <Ico x={26} y={472} s={26}><path d="M5 3v10a7 7 0 0 0 14 0V3h-4v10a3 3 0 0 1-6 0V3zM5 7h4M15 7h4" /></Ico>
      <Ico x={26} y={511} s={26}><path d="M3 17L14 6l4 4L7 21H3zM12 8l4 4M15 15h7v6h-7zM17 15v-2a1.5 1.5 0 0 1 3 0v2" /></Ico>
      <Ico x={26} y={550} s={26}><rect x="5" y="11" width="14" height="10" rx="1" /><path d="M8 11V7a4 4 0 0 1 8-1M12 15v2" /></Ico>
      <Ico x={26} y={588} s={26}><path d="M2 12c4-6 16-6 20 0-4 6-16 6-20 0z" /><circle cx="12" cy="12" r="3" /></Ico>
      <Ico x={26} y={626} s={26}><path d="M10 14l4-4M8 11l-3 3a3.5 3.5 0 0 0 5 5l3-3M16 13l3-3a3.5 3.5 0 0 0-5-5l-3 3" /></Ico>
      <Abs x={10} y={652} w={32} h={1} style={{ background: "#e6e6e6" }} />
      <Ico x={26} y={675} s={26}><path d="M4 6h16M9 6V3h6v3M6 6l1 16h10l1-16M10 10v8M14 10v8" /></Ico>
      <Abs x={9} y={1024} w={34} h={34} style={{ background: "#2b2b2b", borderRadius: 5 }} />
      <Ico x={26} y={1041} s={24} col="#fff"><path d="M12 2l3 7 7 .6-5.4 4.6 1.7 7.3L12 17.5 5.7 21.5l1.7-7.3L2 9.6 9 9z" /></Ico>

      {/* right tools */}
      <Ico x={1058} y={66} s={26}><path d="M4 2h16v20l-8-3-8 3zM8 7h8M8 11h8M8 15h8" /></Ico>
      <Ico x={1058} y={110} s={26}><circle cx="12" cy="13" r="9" /><path d="M12 7v6H8M2 6l4-3M22 6l-4-3" /></Ico>
      <Ico x={1058} y={157} s={26}><path d="M12 3l10 6-10 6L2 9zM2 14l10 6 10-6" /></Ico>
      <Ico x={1058} y={204} s={26}><path d="M2 3h20v15h-10l-5 4v-4H2z" /></Ico>
      <Badge x={1068} y={192} w={16}>1</Badge>
      <Ico x={1058} y={772} s={28}><circle cx="12" cy="12" r="10.5" /><circle cx="12" cy="12" r="6" /><circle cx="12" cy="12" r="1.5" fill="#131722" /><path d="M13 11l6-6" /></Ico>
      <Ico x={1058} y={816} s={26}><path d="M2 20L12 4l10 16zM7 13l3 2 2-2 3 2 2-2" /></Ico>
      <Ico x={1058} y={861} s={26}><rect x="2" y="4" width="20" height="18" rx="2" /><path d="M2 9h20M7 1v5M17 1v5" /></Ico>
      <Ico x={1058} y={910} s={22}><path d="M3 4a18 18 0 0 1 17 17M3 11a11 11 0 0 1 10 10" /><circle cx="5" cy="19" r="2" /></Ico>
      <Badge x={1061} y={896} w={30}>99+</Badge>
      <Ico x={1058} y={955} s={26}><path d="M5 17V11a7 7 0 0 1 14 0v6l2 3H3zM10 22h4" /></Ico>
      <Badge x={1065} y={942} w={22}>59</Badge>
      <Abs x={1041} y={981} w={34} h={34} style={{ background: "#2b2b2b", borderRadius: 17 }} />
      <svg width={18} height={18} viewBox="0 0 18 18" style={{ position: "absolute", left: 1049, top: 989 }}>
        {[3, 9, 15].flatMap((a) => [3, 9, 15].map((b) => <circle key={`${a}${b}`} cx={a} cy={b} r={2} fill="#fff" />))}
      </svg>
      <Ico x={1058} y={1055} s={30}><circle cx="12" cy="12" r="10.5" /><path d="M9 9a3 3 0 1 1 4.5 2.6c-1 .6-1.5 1.2-1.5 2.4M12 17.5v.5" /></Ico>

      {/* bottom */}
      <Abs x={958} y={1013} w={73} h={26} style={{ background: "#fff", borderLeft: "1px solid #e0e3eb" }} />
      <Ico x={995} y={1027} s={18} sw={1.5}><path d="M7 3h10l5 9-5 9H7l-5-9z" /><circle cx="12" cy="12" r="3" /></Ico>
      {ranges.map(([t, x]) => <Txt key={t} x={x} y={1061} size={14} color="#131722" anchor="center">{t}</Txt>)}
      <Abs x={349} y={1050} w={1} h={22} style={{ background: "#e6e6e6" }} />
      <Ico x={371} y={1061} s={20}><path d="M4 5h16v16H9M4 5v10M4 9h16M8 2v4M16 2v4M2 17h7M6 14l3 3-3 3" /></Ico>
      <Txt x={875} y={1061} size={14} color="#131722">13:17:14 UTC+8</Txt>
      <Abs x={986} y={1050} w={1} h={22} style={{ background: "#e6e6e6" }} />
      <Txt x={1008} y={1061} size={14} color="#131722" anchor="center">ADJ</Txt>
    </>
  );
}

const Pane = ({ y, h, r }: any) => (
  <canvas ref={r} width={975} height={h} style={{ position: "absolute", left: 56, top: y, width: 975, height: h, display: "block" }} />
);

export default function App() {
  const main = useRef<HTMLCanvasElement>(null);
  const signal = useRef<HTMLCanvasElement>(null);
  const fillP = useRef<HTMLCanvasElement>(null);
  const mom = useRef<HTMLCanvasElement>(null);
  const mix = useRef<HTMLCanvasElement>(null);
  useEffect(() => {
    const charts = [
      buildMain(main.current!), buildSignal(signal.current!), buildFill(fillP.current!),
      buildMomentum(mom.current!), buildVolumeMix(mix.current!),
    ];
    return () => charts.forEach((c) => c.destroy());
  }, []);
  return (
    <div style={{ position: "fixed", left: 0, top: 0, width: 1080, height: 1080, background: "#fff", overflow: "hidden", fontFamily: "'Noto Sans', sans-serif" }}>
      <Pane y={42} h={536} r={main} />
      <Pane y={578} h={93} r={signal} />
      <Pane y={671} h={101} r={fillP} />
      <Pane y={772} h={112} r={mom} />
      <Pane y={884} h={156} r={mix} />
      <Chrome />
    </div>
  );
}
